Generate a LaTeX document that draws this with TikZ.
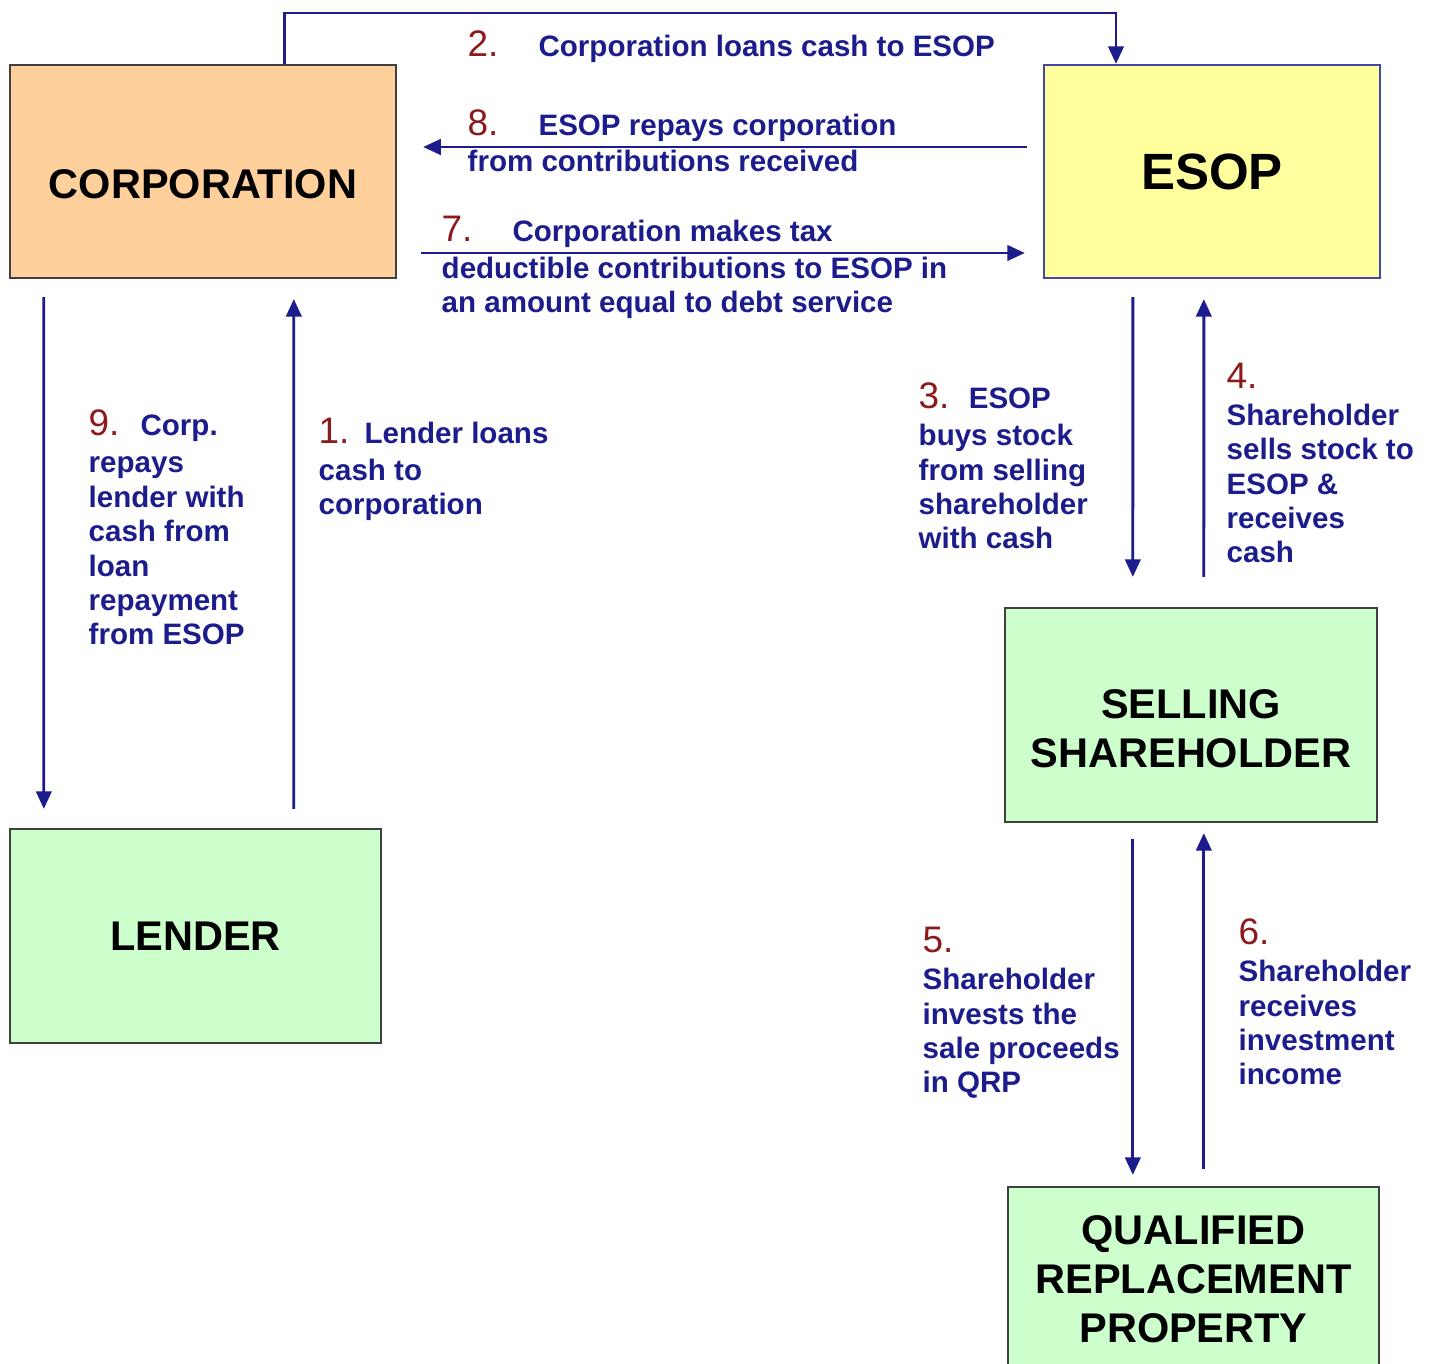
\documentclass[tikz,border=0pt]{standalone}
\usepackage{fontspec}
\setmainfont{Liberation Sans}
\usetikzlibrary{arrows.meta, calc}
\definecolor{navy}{HTML}{1C1C8C}
\definecolor{numred}{HTML}{8C1A1A}
\definecolor{corpfill}{HTML}{FFD09C}
\definecolor{esopfill}{HTML}{FFFF9E}
\definecolor{greenfill}{HTML}{CCFFCC}
\definecolor{esopline}{HTML}{4646A6}
\newcommand{\stepnum}[1]{{\fontsize{10.5}{9.8}\selectfont\mdseries\color{numred}#1}}

\begin{document}
\begin{tikzpicture}[x=0.01cm, y=-0.01cm,
    box/.style={draw=black!75, line width=0.6pt, align=center, inner sep=0pt,
                font=\fontsize{11.8}{13.9}\selectfont\bfseries},
    note/.style={anchor=base west, inner sep=0pt, align=left, text=navy,
                 font=\fontsize{8.4}{9.8}\selectfont\bfseries},
    flow/.style={draw=navy, line width=0.8pt,
                 -{Triangle[length=5pt, width=4.4pt]}}
  ]
  \useasboundingbox (0,0) rectangle (1432,1364);

  % parties
  \node[box, fill=corpfill, minimum width=3.86cm, minimum height=2.13cm,
        text height=15.6pt, text depth=0pt] (corp) at (203,171.5) {CORPORATION};
  \node[box, fill=esopfill, draw=esopline, minimum width=3.36cm, minimum height=2.13cm,
        font=\fontsize{14.5}{17}\selectfont\bfseries] (esop) at (1212,171.5) {ESOP};
  \node[box, fill=greenfill, minimum width=3.72cm, minimum height=2.14cm,
        text height=29.8pt, text depth=0pt] (seller) at (1191,715) {SELLING\\SHAREHOLDER};
  \node[box, fill=greenfill, minimum width=3.71cm, minimum height=2.14cm] (lender) at (195.5,936) {LENDER};
  \node[box, fill=greenfill, minimum width=3.71cm, minimum height=1.85cm] (qrp) at (1193.5,1279.5) {QUALIFIED\\REPLACEMENT\\PROPERTY};

  \coordinate (top) at (1116,13);

  % cash and stock flows
  \draw[flow] ($(corp.north west)+(276,0)$) |- (top) -- (top |- esop.north);
  \draw[flow] ($(esop.west)+(-16,-24.5)$) -- ($(corp.east)+(26,-24.5)$);
  \draw[flow] ($(corp.east)+(24,81.5)$) -- ($(esop.west)+(-18,81.5)$);
  \draw[flow] ($(corp.south west)+(35,18)$) -- ($(lender.north west)+(35,-19)$);
  \draw[flow] ($(lender.north west)+(285,-19)$) -- ($(corp.south west)+(285,20)$);
  \draw[flow] ($(esop.south west)+(90,18)$) -- ($(seller.north west)+(129,-30)$);
  \draw[flow] ($(seller.north west)+(200,-30)$) -- ($(esop.south west)+(161,20)$);
  \draw[flow] ($(seller.south west)+(129,16)$) -- ($(qrp.north west)+(126,-11)$);
  \draw[flow] ($(qrp.north west)+(197,-17)$) -- ($(seller.south west)+(200,10)$);

  % step labels (anchored at the baseline of their last line)
  \node[note] (note1) at (318,515) {\stepnum{1.}\hspace{4.3pt}Lender loans\\[0.7pt]cash to\\corporation};
  \node[note] (note2) at (467,57) {\stepnum{2.}\hspace{11.4pt}Corporation loans cash to ESOP};
  \node[note] (note3) at (918,549) {\stepnum{3.}\hspace{5.5pt}ESOP\\[0.7pt]buys stock\\from selling\\shareholder\\with cash};
  \node[note] (note4) at (1226,563) {\stepnum{4.}\\[0.7pt]Shareholder\\sells stock to\\ESOP \&\\receives\\cash};
  \node[note] (note5) at (922,1093) {\stepnum{5.}\\[0.7pt]Shareholder\\invests the\\sale proceeds\\in QRP};
  \node[note] (note6) at (1238,1085) {\stepnum{6.}\\[0.7pt]Shareholder\\receives\\investment\\income};
  \node[note] (note7) at (441,313) {\stepnum{7.}\hspace{11.4pt}Corporation makes tax\\[0.7pt]deductible contributions to ESOP in\\an amount equal to debt service};
  \node[note] (note8) at (467,172) {\stepnum{8.}\hspace{11.4pt}ESOP repays corporation\\[0.7pt]from contributions received};
  \node[note] (note9) at (88,645) {\stepnum{9.}\hspace{6pt}Corp.\\[0.7pt]repays\\lender with\\cash from\\loan\\repayment\\from ESOP};
\end{tikzpicture}
\end{document}
